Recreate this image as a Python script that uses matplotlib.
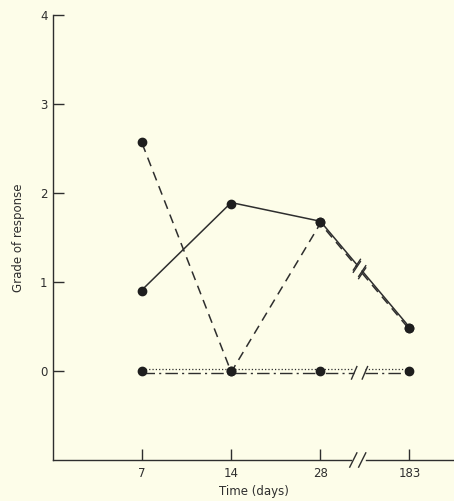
import numpy as np
import matplotlib
matplotlib.use("Agg")
import matplotlib.pyplot as plt
import matplotlib.transforms as mtransforms

# ---- data ----
days = ["7", "14", "28", "183"]
solid_vals = [0.9, 1.88, 1.67, 0.48]
dashed_vals = [2.57, 0.0, 1.67, 0.48]
dotted_vals = [0.0, 0.0, 0.0, 0.0]
dashdot_vals = [0.0, 0.0, 0.0, 0.0]
y_ticks = [0, 1, 2, 3, 4]

BG = "#fdfde9"
INK = "#2e2e2e"

fig = plt.figure(figsize=(4.54, 5.01), dpi=100, facecolor=BG)
ax = fig.add_axes([53/454, 41/501, 401/454, 445/501])
ax.set_facecolor(BG)
pos = np.arange(1, len(days) + 1)

ax.set_xlim(0, 4.5)
ax.set_ylim(-1, 4)
for s in ["top", "right", "bottom"]:
    ax.spines[s].set_visible(False)
ax.spines["left"].set_color(INK)
ax.spines["left"].set_linewidth(1.0)

ax.set_yticks(y_ticks)
ax.set_yticklabels([str(v) for v in y_ticks])
ax.set_xticks(pos)
ax.set_xticklabels(days)
ax.tick_params(axis="both", direction="in", length=8, width=1.0, color=INK,
               labelcolor=INK, labelsize=8.5)
ax.tick_params(axis="x", pad=5)
ax.tick_params(axis="y", pad=4)

# x-axis line with break
gap_lo, gap_hi = 3.34, 3.51
bt = ax.get_xaxis_transform()
ax.plot([0, gap_lo], [0, 0], color=INK, lw=1.0, transform=bt, clip_on=False)
ax.plot([gap_hi, 4.5], [0, 0], color=INK, lw=1.0, transform=bt, clip_on=False)
ymin = ax.get_ylim()[0]
for xb in [3.37, 3.47]:
    ax.plot([xb - 0.04, xb + 0.04], [ymin - 0.08, ymin + 0.08], color=INK, lw=1.0,
            clip_on=False)

def off(dy_pts):
    return ax.transData + mtransforms.ScaledTranslation(0, dy_pts / 72, fig.dpi_scale_trans)

def broken_line(vals, b0, b1, ls, lw, dy=0.0, dashes=None, caps=False, slash=False):
    vals = np.asarray(vals, float)
    tr = off(dy)
    ya = np.interp(b0, pos, vals)
    yb = np.interp(b1, pos, vals)
    xs1 = list(pos[:3]) + [b0]
    ys1 = list(vals[:3]) + [ya]
    xs2 = [b1, pos[3]]
    ys2 = [yb, vals[3]]
    for xs, ys in [(xs1, ys1), (xs2, ys2)]:
        l, = ax.plot(xs, ys, color=INK, lw=lw, ls=ls, transform=tr)
        if dashes is not None:
            l.set_dashes(dashes)
    if caps:
        for xb, yv in [(b0, ya), (b1, yb)]:
            ax.plot([xb + 0.04, xb - 0.04], [yv + 0.06, yv - 0.06], color=INK, lw=1.0, transform=tr)
    if slash:
        for xb, yv in [(b0, ya), (b1, yb)]:
            ax.plot([xb - 0.03, xb + 0.03], [yv - 0.07, yv + 0.07], color=INK, lw=1.0, transform=tr)

# dotted (zero line, slightly above)
broken_line(dotted_vals, 3.38, 3.5, ":", 0.9, dy=1.3)
# dash-dot (zero line, slightly below) with slash breaks
broken_line(dashdot_vals, 3.38, 3.5, "-", 1.0, dy=-1.3, dashes=[9, 3, 1.5, 3], slash=True)
# solid
broken_line(solid_vals, 3.41, 3.47, "-", 1.1, dy=0.8, caps=True)
# dashed
broken_line(dashed_vals, 3.41, 3.47, "-", 1.1, dy=-0.8, dashes=[6, 4], caps=True)

# markers
ax.plot(pos, solid_vals, "o", color="#1e1e1e", ms=6, ls="none", zorder=5)
ax.plot(pos, dashed_vals, "o", color="#1e1e1e", ms=6, ls="none", zorder=5)
ax.plot(pos, dashdot_vals, "o", color="#1e1e1e", ms=6, ls="none", zorder=5)

ax.set_ylabel("Grade of response", fontsize=8.5, color=INK, labelpad=11)
ax.set_xlabel("Time (days)", fontsize=8.5, color=INK, labelpad=4)

fig.savefig("out.png", dpi=100, facecolor=BG)
